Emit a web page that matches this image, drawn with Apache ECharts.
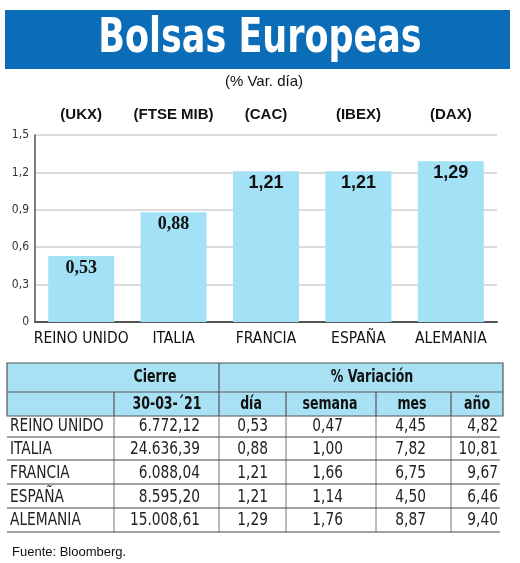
<!DOCTYPE html>
<html>
<head>
<meta charset="utf-8">
<script src="https://cdn.jsdelivr.net/npm/echarts@6/dist/echarts.min.js"></script>
<style>
html,body{margin:0;padding:0;background:#fff;}
#chart{width:520px;height:563px;}
</style>
</head>
<body>
<div id="chart"></div>
<script>
// ---- data ----
var titleText = 'Bolsas Europeas';
var subtitleText = '(% Var. día)';
var countries = ['REINO UNIDO', 'ITALIA', 'FRANCIA', 'ESPAÑA', 'ALEMANIA'];
var tickers = ['(UKX)', '(FTSE MIB)', '(CAC)', '(IBEX)', '(DAX)'];
var dayVar = [0.53, 0.88, 1.21, 1.21, 1.29];
var cierre = ['6.772,12', '24.636,39', '6.088,04', '8.595,20', '15.008,61'];
var semanaVar = ['0,47', '1,00', '1,66', '1,14', '1,76'];
var mesVar = ['4,45', '7,82', '6,75', '4,50', '8,87'];
var anioVar = ['4,82', '10,81', '9,67', '6,46', '9,40'];
var yTicks = { min: 0, max: 1.5, interval: 0.3 };
var sourceText = 'Fuente: Bloomberg.';

// ---- styling ----
var NARROW = "'Liberation Sans Narrow','DejaVu Sans Condensed',sans-serif";
var SANS = "'Liberation Sans','DejaVu Sans',sans-serif";
var SERIF = "'Liberation Serif','DejaVu Serif',serif";
var BAR_COLOR = '#a3e1f6';
var HEAD_FILL = '#a8e0f4';
var BANNER = '#0b6db8';

function fmt(v, d) { return v.toFixed(d).replace('.', ','); }

var chart = echarts.init(document.getElementById('chart'), null, { renderer: 'canvas' });

var barData = dayVar.map(function (v, i) {
  return {
    value: v,
    label: { fontFamily: i < 2 ? SERIF : SANS }
  };
});

// ---- table via graphic ----
var g = [];
var TL = 7, TR = 503, TT = 363, H1 = 392, H2 = 416;
var colX = [114, 219, 286, 376, 451];
var rowLines = [437, 460, 484, 508, 532];
var rowCenters = [427, 450, 474, 498, 521];

function txt(t, x, y, font, align, sx, fill) {
  g.push({
    type: 'text', x: x, y: y, scaleX: sx || 1, z: 3,
    style: { text: t, fill: fill || '#111', font: font, textAlign: align, textVerticalAlign: 'middle' }
  });
}

// banner
g.push({ type: 'rect', shape: { x: 5, y: 10, width: 505, height: 59 }, style: { fill: BANNER }, z: 1 });
txt(titleText, 260, 40, 'bold 48px ' + NARROW, 'center', 0.81, '#fff');
txt(subtitleText, 264, 82, '15px ' + SANS, 'center', 1, '#111');

// header background
g.push({ type: 'rect', shape: { x: TL, y: TT, width: TR - TL, height: H2 - TT }, style: { fill: HEAD_FILL, stroke: '#555', lineWidth: 1.2 }, z: 1 });
g.push({ type: 'line', shape: { x1: TL, y1: H1, x2: TR, y2: H1 }, style: { stroke: '#555', lineWidth: 1.2 }, z: 2 });
g.push({ type: 'line', shape: { x1: colX[1], y1: TT, x2: colX[1], y2: H2 }, style: { stroke: '#555', lineWidth: 1.2 }, z: 2 });
[0, 2, 3, 4].forEach(function (k) {
  g.push({ type: 'line', shape: { x1: colX[k], y1: H1, x2: colX[k], y2: H2 }, style: { stroke: '#555', lineWidth: 1.2 }, z: 2 });
});
// data vertical lines
colX.forEach(function (x) {
  g.push({ type: 'line', shape: { x1: x, y1: H2, x2: x, y2: rowLines[4] }, style: { stroke: '#777', lineWidth: 1 }, z: 2 });
});
// row underlines
rowLines.forEach(function (y) {
  g.push({ type: 'line', shape: { x1: TL, y1: y, x2: TR - 3, y2: y }, style: { stroke: '#444', lineWidth: 1 }, z: 2 });
});

var headFont = 'bold 17px ' + NARROW;
var HS = 0.82;
txt('Cierre', 155, 378, headFont, 'center', HS);
txt('% Variación', 372, 378, headFont, 'center', HS);
txt('30-03-´21', 167, 405, headFont, 'center', HS);
txt('día', 251, 405, headFont, 'center', HS);
txt('semana', 330, 405, headFont, 'center', HS);
txt('mes', 412, 405, headFont, 'center', HS);
txt('año', 477, 405, headFont, 'center', HS);

var cellFont = '17px ' + NARROW;
var CS = 0.9;
var rightEdges = [200, 268, 343, 426, 498];
countries.forEach(function (c, i) {
  var y = rowCenters[i];
  txt(c, 10, y, cellFont, 'left', CS, '#222');
  var vals = [cierre[i], fmt(dayVar[i], 2), semanaVar[i], mesVar[i], anioVar[i]];
  vals.forEach(function (v, k) {
    txt(v, rightEdges[k], y, cellFont, 'right', CS, '#222');
  });
});
txt(sourceText, 12, 552, '13px ' + SANS, 'left', 1, '#111');

chart.setOption({
  animation: false,
  backgroundColor: '#fff',
  grid: { left: 35, right: 23, top: 135, bottom: 241 },
  xAxis: [
    {
      type: 'category', data: countries, position: 'bottom',
      axisLine: { show: true, lineStyle: { color: '#555', width: 2 } },
      axisTick: { show: false },
      axisLabel: { color: '#111', fontSize: 15.5, fontFamily: NARROW, margin: 9, interval: 0 }
    },
    {
      type: 'category', data: tickers, position: 'top',
      axisLine: { show: false }, axisTick: { show: false }, splitLine: { show: false },
      axisLabel: { color: '#111', fontSize: 15, fontWeight: 'bold', fontFamily: SANS, margin: 13, interval: 0 }
    }
  ],
  yAxis: {
    type: 'value', min: yTicks.min, max: yTicks.max, interval: yTicks.interval,
    axisLine: { show: true, lineStyle: { color: '#555', width: 1.5 } },
    axisTick: { show: false },
    splitLine: { lineStyle: { color: '#cfcfcf', width: 1.5 } },
    axisLabel: {
      color: '#333', fontSize: 12, fontFamily: NARROW, margin: 6,
      formatter: function (v) { return v === 0 ? '0' : fmt(v, 1); }
    }
  },
  series: [{
    type: 'bar', xAxisIndex: 0, data: barData, barWidth: 66,
    itemStyle: { color: BAR_COLOR },
    label: {
      show: true, position: 'insideTop', distance: 3,
      color: '#111', fontSize: 18, fontWeight: 'bold',
      formatter: function (p) { return fmt(p.value, 2); }
    }
  }],
  graphic: g
});
</script>
</body>
</html>
